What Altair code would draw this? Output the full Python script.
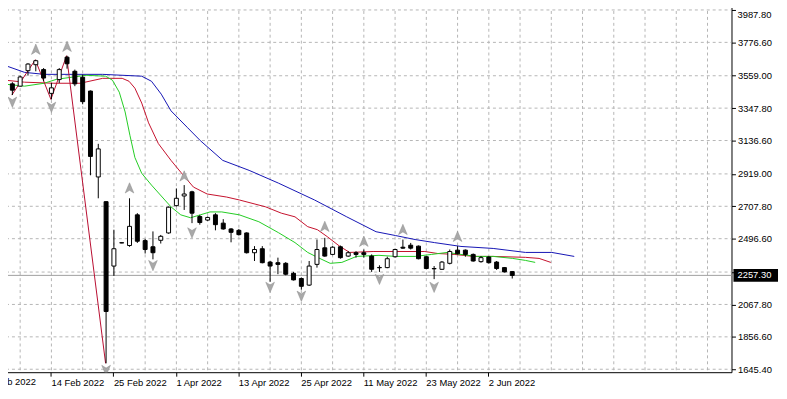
import altair as alt
import pandas as pd

FONT = "Liberation Sans"

# ---- candles (bar index 0 = 14 Feb 2022) ----
bar_index = list(range(-6, 60))
opens = [3502, 3506, 3491, 3592, 3631, 3599,
         3444, 3534, 3680, 3588, 3549, 3459, 2899, 2738, 2318, 2470,
         2452, 2652, 2484, 2444, 2486, 2534, 2712, 2775, 2802, 2641,
         2618, 2652, 2598, 2560, 2551, 2534, 2405, 2431, 2344, 2340,
         2336, 2271, 2237, 2194, 2329, 2437, 2394, 2444, 2383, 2405,
         2405, 2383, 2309, 2308, 2379, 2441, 2454, 2448, 2379, 2302,
         2297, 2336, 2422, 2422, 2394, 2347, 2377, 2344, 2308, 2282]
highs = [3517, 3517, 3560, 3641, 3663, 3609,
         3512, 3609, 3689, 3599, 3566, 3463, 3115, 2740, 2555, 2472,
         2760, 2663, 2495, 2544, 2521, 2706, 2824, 2846, 2809, 2652,
         2641, 2663, 2624, 2566, 2560, 2538, 2448, 2448, 2351, 2373,
         2344, 2280, 2244, 2351, 2491, 2502, 2448, 2452, 2415, 2415,
         2426, 2394, 2323, 2379, 2431, 2491, 2469, 2452, 2383, 2318,
         2351, 2426, 2448, 2426, 2400, 2383, 2383, 2351, 2312, 2286]
lows = [3446, 3433, 3488, 3560, 3588, 3523,
        3405, 3512, 3605, 3491, 3373, 2910, 2760, 1684, 2254, 2467,
        2444, 2469, 2400, 2362, 2465, 2529, 2706, 2684, 2598, 2588,
        2613, 2551, 2555, 2473, 2517, 2400, 2351, 2336, 2215, 2265,
        2258, 2224, 2164, 2189, 2308, 2379, 2389, 2366, 2379, 2373,
        2373, 2280, 2280, 2304, 2373, 2431, 2426, 2362, 2297, 2233,
        2293, 2329, 2394, 2379, 2347, 2340, 2334, 2293, 2276, 2237]
closes = [3470, 3465, 3551, 3635, 3657, 3544,
          3480, 3599, 3637, 3506, 3390, 3033, 3082, 2022, 2431, 2469,
          2577, 2480, 2426, 2405, 2512, 2702, 2760, 2788, 2663, 2602,
          2635, 2588, 2560, 2538, 2523, 2405, 2426, 2340, 2318, 2329,
          2265, 2228, 2186, 2318, 2426, 2383, 2441, 2373, 2405, 2394,
          2394, 2297, 2307, 2366, 2426, 2435, 2435, 2366, 2302, 2300,
          2344, 2413, 2398, 2394, 2351, 2373, 2340, 2302, 2280, 2257.3]

# ---- Alligator lines ----
jaw_idx = [-5.875, -3.375, -0.875, 6.625, 11.625, 12.875, 14.125, 15.375, 17.5, 19.125,
           22.0, 25.375, 29.125, 33.75, 37.875, 41.625, 44.125, 46.625, 49.125, 52.5,
           56.625, 60.75, 64.125, 67.0]
jaw_val = [3626, 3581, 3568, 3568, 3556, 3523, 3439, 3330, 3220, 3136,
           3007, 2942, 2859, 2749, 2639, 2542, 2517, 2491, 2471, 2446,
           2433, 2407, 2407, 2381]
teeth_idx = [-5.875, -3.375, 0.375, 3.75, 6.625, 9.125, 10.0, 10.75, 11.625, 12.5,
             13.75, 15.375, 16.625, 18.25, 20.0, 22.5, 24.125, 27.5, 29.5, 31.25,
             32.875, 34.125, 35.375, 37.0, 38.25, 41.25, 44.125, 47.875, 49.5, 51.625,
             54.125, 56.625, 60.75, 62.5, 64.0]
teeth_val = [3530, 3517, 3510, 3510, 3542, 3542, 3523, 3478, 3381, 3252,
             3117, 3007, 2930, 2833, 2788, 2768, 2749, 2704, 2663, 2639,
             2575, 2555, 2510, 2446, 2407, 2413, 2413, 2413, 2400, 2394,
             2381, 2381, 2375, 2368, 2342]
lips_idx = [-5.875, -3.375, -0.875, 0.75, 4.5, 7.0, 7.875, 8.75, 9.5, 10.125,
            10.75, 11.625, 12.875, 14.125, 15.375, 16.625, 17.875, 19.125, 20.375, 21.875,
            24.125, 26.625, 29.125, 31.25, 32.875, 34.125, 35.75, 37.25, 39.125, 42.0,
            44.125, 46.625, 48.75, 50.75, 52.5, 54.5, 56.625, 59.125, 60.75, 62.0]
lips_val = [3504, 3491, 3510, 3536, 3562, 3556, 3530, 3452, 3323, 3168,
            3026, 2923, 2846, 2775, 2704, 2652, 2633, 2652, 2671, 2671,
            2652, 2607, 2536, 2471, 2407, 2375, 2336, 2342, 2381, 2388,
            2381, 2381, 2394, 2407, 2394, 2381, 2381, 2368, 2355, 2342]

# ---- ZigZag ----
zz_idx = [-5, -2, 0, 2, 7]
zz_val = [3433, 3663, 3405, 3689, 1684]

# ---- Fractals (arrow levels) ----
fr_up_idx = [-2, 2, 10, 17, 35, 40, 45, 52]
fr_up_val = [3730, 3749, 2826, 2904, 2575, 2478, 2555, 2510]
fr_dn_idx = [-5, 0, 7, 13, 18, 28, 32, 42, 49]
fr_dn_val = [3388, 3355, 1639, 2323, 2536, 2181, 2123, 2233, 2181]

# ---- axes ----
price_ticks = [3987.8, 3776.6, 3559.0, 3347.8, 3136.6, 2919.0, 2707.8, 2496.6,
               2279.0, 2067.8, 1856.6, 1645.4]
date_tick_idx = [-8, 0, 8, 16, 24, 32, 40, 48, 56]
date_labels = ["2 Feb 2022", "14 Feb 2022", "25 Feb 2022", "1 Apr 2022", "13 Apr 2022",
               "25 Apr 2022", "11 May 2022", "23 May 2022", "2 Jun 2022"]
grid_idx = list(range(-4, 88, 4))
last_price = 2257.3

X_SCALE = alt.Scale(domain=[-5.875, 86.5], nice=False, zero=False)
Y_SCALE = alt.Scale(domain=[1626.04, 4020.06], nice=False, zero=False)

label_expr = "''"
for v, t in zip(reversed(date_tick_idx), reversed(date_labels)):
    label_expr = f"datum.value == {v} ? '{t}' : ({label_expr})"

X_AXIS = alt.Axis(values=date_tick_idx, labelExpr=label_expr, orient="bottom", grid=False,
                  domain=False, tickSize=4, tickColor="black", labelAlign="left",
                  labelPadding=1, labelFont=FONT, labelFontSize=9.5, labelColor="black",
                  labelFlush=False, labelOverlap=False, title=None)
# the top label is drawn separately (kept inside the page); the one under the
# current-price box is hidden by it, as in the terminal
Y_AXIS = alt.Axis(values=price_ticks, format=".2f", orient="right", grid=False, domain=False,
                  tickSize=4, tickColor="black", labelPadding=2, labelFont=FONT,
                  labelFontSize=9.5, labelColor="black", labelOverlap=False, labelFlush=False,
                  title=None,
                  labelExpr="(datum.value > 3900 || (datum.value > 2270 && datum.value < 2290))"
                            " ? '' : format(datum.value, '.2f')")


def X(field):
    return alt.X(field, scale=X_SCALE, axis=X_AXIS)


def Y(field):
    return alt.Y(field, scale=Y_SCALE, axis=Y_AXIS)


candles = pd.DataFrame({"i": bar_index, "open": opens, "high": highs,
                        "low": lows, "close": closes})

grid_v = alt.Chart(pd.DataFrame({"g": grid_idx})).mark_rule(
    color="#b5b5b5", strokeDash=[3, 3], strokeWidth=1, xOffset=0.5, clip=True).encode(
    x=X("g:Q"), y=alt.value(0), y2=alt.value(371))

grid_h = alt.Chart(pd.DataFrame({"p": price_ticks})).mark_rule(
    color="#b5b5b5", strokeDash=[3, 3], strokeWidth=1, clip=True).encode(
    y=Y("p:Q"), x=alt.value(0), x2=alt.value(739))

price_line = alt.Chart(pd.DataFrame({"p": [last_price]})).mark_rule(
    color="#a0a0a0", strokeWidth=1).encode(
    y=Y("p:Q"), x=alt.value(0), x2=alt.value(739))


def ma_line(idx, vals, color):
    return alt.Chart(pd.DataFrame({"i": idx, "v": vals})).mark_line(
        color=color, strokeWidth=1, clip=True).encode(x=X("i:Q"), y=Y("v:Q"))


jaw = ma_line(jaw_idx, jaw_val, "#1414b4")
teeth = ma_line(teeth_idx, teeth_val, "#c4102c")
lips = ma_line(lips_idx, lips_val, "#22cc22")
zigzag = ma_line(zz_idx, zz_val, "#b80c30")

wicks = alt.Chart(candles).mark_rule(color="black", strokeWidth=1, xOffset=0.5, clip=True).encode(
    x=X("i:Q"), y=Y("low:Q"), y2="high:Q")

bodies = alt.Chart(candles).mark_bar(size=4, stroke="black", strokeWidth=1, xOffset=0.5,
                                     clip=True).encode(
    x=X("i:Q"), y=Y("open:Q"), y2="close:Q",
    fill=alt.condition("datum.close >= datum.open", alt.value("white"), alt.value("black")))

UP_PATH = "M0,-1L0.8,0.9L0,0.4L-0.8,0.9Z"
DN_PATH = "M0,1L0.8,-0.9L0,-0.4L-0.8,-0.9Z"

fr_up = alt.Chart(pd.DataFrame({"i": fr_up_idx, "v": fr_up_val})).mark_point(
    shape=UP_PATH, size=120, filled=True, fill="#a9a9a9", stroke="#8c8c8c",
    strokeWidth=0.5, opacity=1, xOffset=0.5, clip=True).encode(x=X("i:Q"), y=Y("v:Q"))

fr_dn = alt.Chart(pd.DataFrame({"i": fr_dn_idx, "v": fr_dn_val})).mark_point(
    shape=DN_PATH, size=120, filled=True, fill="#a9a9a9", stroke="#8c8c8c",
    strokeWidth=0.5, opacity=1, xOffset=0.5, clip=True).encode(x=X("i:Q"), y=Y("v:Q"))

# top price label, kept inside the page
top_label = alt.Chart(pd.DataFrame({"p": [price_ticks[0]]})).mark_text(
    align="left", baseline="top", color="black", font=FONT, fontSize=9.5, dy=0,
    clip=False).encode(y=Y("p:Q"), x=alt.value(745), text=alt.Text("p:Q", format=".2f"))

# first date label, partly outside the window on the left
first_date = alt.Chart(pd.DataFrame({"i": [date_tick_idx[0]], "t": [date_labels[0]]})).mark_text(
    align="left", baseline="top", color="black", font=FONT, fontSize=9.5, clip=False).encode(
    x=X("i:Q"), y=alt.value(376), text="t:N")

price_df = pd.DataFrame({"p": [last_price]})
price_box = alt.Chart(price_df).mark_rule(color="black", strokeWidth=13, strokeCap="butt",
                                          clip=False).encode(
    y=Y("p:Q"), x=alt.value(741), x2=alt.value(786))
price_text = alt.Chart(price_df).mark_text(align="left", baseline="middle", color="white",
                                           font=FONT, fontSize=9.5, clip=False).encode(
    y=Y("p:Q"), x=alt.value(745), text=alt.Text("p:Q", format=".2f"))

chart = alt.layer(
    grid_v, grid_h, price_line, jaw, teeth, lips, zigzag, wicks, bodies, fr_up, fr_dn,
    top_label, first_date, price_box, price_text
).properties(
    width=739, height=371,
    padding={"left": -8, "top": -5, "right": 48, "bottom": 17},
    autosize=alt.AutoSizeParams(type="none"),
    background="white",
).configure_view(stroke="black", strokeWidth=1)

chart.save("out.html", embed_options={"renderer": "svg", "actions": False})
